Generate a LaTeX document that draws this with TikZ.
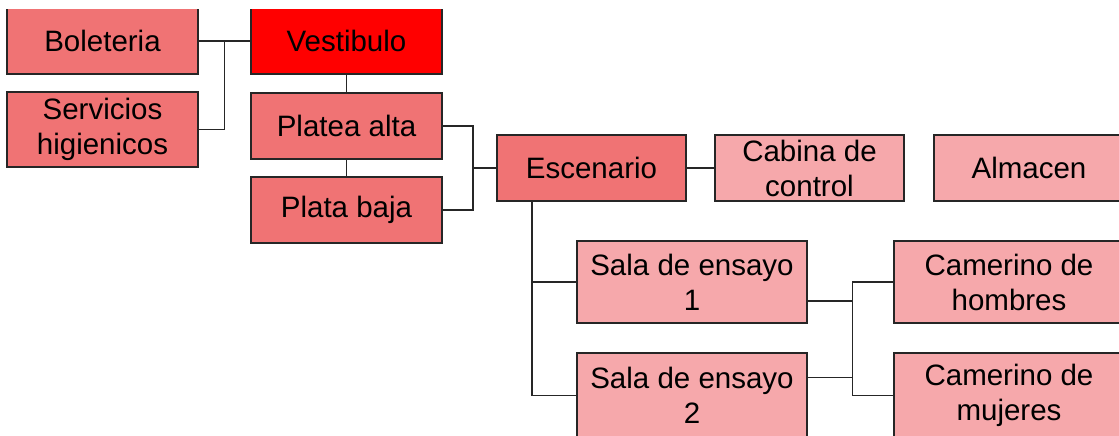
\documentclass[tikz,border=0pt]{standalone}
\usepackage{fontspec}
\setmainfont{Liberation Sans}
\usetikzlibrary{positioning,calc}
\definecolor{salmonred}{RGB}{240,115,116}
\definecolor{vestred}{RGB}{255,0,0}
\definecolor{lightrose}{RGB}{246,168,171}
\begin{document}
\begin{tikzpicture}[
  font=\fontsize{29.5}{35}\selectfont,
  bx/.style={draw=black!85, line width=1.4pt, align=center, inner sep=0pt,
    outer sep=0pt, minimum width=191pt, minimum height=66pt},
  ln/.style={draw=black!85, line width=1.2pt},
  sal/.style={bx, fill=salmonred},
  vst/.style={bx, fill=vestred},
  ros/.style={bx, fill=lightrose, minimum width=189pt},
  sala/.style={bx, fill=lightrose, minimum width=230pt, minimum height=82pt}
]
\path[use as bounding box, fill=white] (0,0) rectangle (1119pt,-436pt);
\clip (0,-10pt) rectangle (1119pt,-436pt);
\node[sal, anchor=north west] (bol) at (7pt,-8pt) {Boleteria};
\node[sal, below=18pt of bol, minimum height=75pt] (ser) {Servicios\\higienicos};
\node[vst, right=53pt of bol] (ves) {Vestibulo};
\node[sal, below=19pt of ves] (pal) {Platea alta};
\node[sal, below=18pt of pal] (pba) {Plata baja};
\path (pal.east) -- (pba.east) coordinate[pos=0.5] (mid);
\node[sal, minimum width=189pt, right=55pt of mid] (esc) {Escenario};
\node[ros, right=29pt of esc] (cab) {Cabina de\\control};
\node[ros, right=30pt of cab, minimum width=190pt] (alm) {Almacen};
\node[sala, below right=40pt and 80pt of esc.south west] (sa1) {Sala de ensayo\\1};
\node[sala, below=30pt of sa1, minimum height=85pt] (sa2) {Sala de ensayo\\2};
\node[sala, right=87pt of sa1] (cah) {Camerino de\\hombres};
\node[sala, right=87pt of sa2, minimum height=85pt] (cam) {Camerino de\\mujeres};
\coordinate (j1) at ($(bol.east)!0.5!(ves.west)$);
\coordinate[right=31pt of mid] (j2);
\coordinate[right=35pt of esc.south west] (j3);
\coordinate (j4) at ($(sa1.east)!0.52!(cah.west)$);
\coordinate[below=19pt of sa1.east] (s1);
\coordinate[above=18pt of sa2.east] (s2);
\draw[ln] (bol.east) -- (ves.west);
\draw[ln] (ser.east) -| (j1);
\draw[ln] (ves.south) -- (pal.north);
\draw[ln] (pal.south) -- (pba.north);
\draw[ln] (pal.east) -| (j2) |- (pba.east);
\draw[ln] (j2) -- (esc.west);
\draw[ln] (esc.east) -- (cab.west);
\draw[ln] (j3) |- (sa1.west);
\draw[ln] (j3) |- (sa2.west);
\draw[ln] (cah.west) -| (j4) |- (cam.west);
\draw[ln] (s1) -- (s1 -| j4);
\draw[ln] (s2) -- (s2 -| j4);
\end{tikzpicture}
\end{document}
